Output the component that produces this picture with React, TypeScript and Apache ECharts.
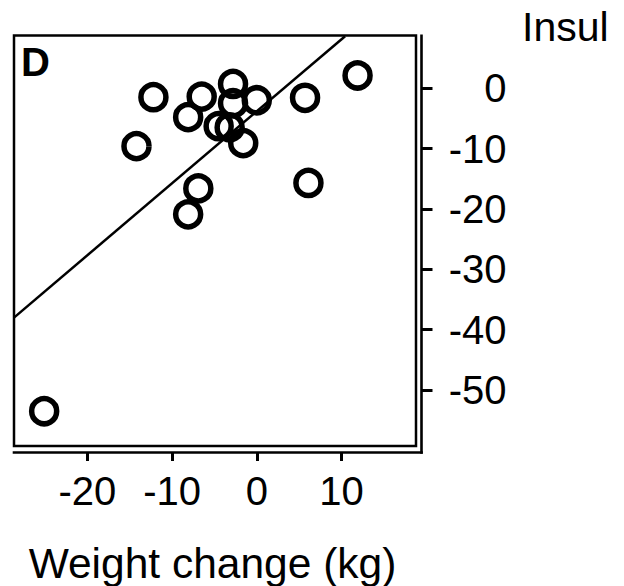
import React, { useEffect, useRef } from "react";
import * as echarts from "echarts";

// Scatter points
const weightChange = [-12.2, -6.5, -8.1, -2.8, -2.8, 0.0, -4.5, -3.2, -1.6, -14.2, -6.9, -8.1, 5.7, 6.1, 11.9, -25.1];
const insulinChange = [-1.5, -1.4, -4.8, 0.7, -2.5, -2.0, -6.3, -6.5, -9.1, -9.6, -16.6, -20.9, -1.6, -15.7, 2.1, -53.5];

// Regression line endpoints
const fitX = [-28.66, 10.43];
const fitY = [-38.0, 8.6];

const xTicks = [-20, -10, 0, 10];
const yTicks = [0, -10, -20, -30, -40, -50];

const X_MIN = -28.66;
const X_MAX = 18.8;
const Y_MIN = -59.26;
const Y_MAX = 8.72;

const FONT = '"Liberation Sans", Arial, sans-serif';

const G_LEFT = 14;
const G_TOP = 35.5;
const G_W = 402;
const G_H = 410.5;

export default function App() {
  const ref = useRef<HTMLDivElement>(null);
  useEffect(() => {
    if (!ref.current) return;
    const chart = echarts.init(ref.current, null, { renderer: "svg" });
    const right = G_LEFT + G_W;
    const bottom = G_TOP + G_H;
    const axY = bottom + 6.5;
    const axX = right + 5.5;
    chart.setOption({
      animation: false,
      backgroundColor: "#fff",
      grid: {
        left: G_LEFT,
        top: G_TOP,
        width: G_W,
        height: G_H,
        containLabel: false,
        outerBoundsMode: "none",
        show: true,
        borderColor: "#000",
        borderWidth: 2.5,
        backgroundColor: "transparent",
      },
      xAxis: {
        type: "value",
        min: X_MIN,
        max: X_MAX,
        position: "bottom",
        offset: 6.5,
        name: "Weight change (kg)",
        nameLocation: "middle",
        nameGap: 89,
        nameTextStyle: { fontFamily: FONT, fontSize: 42.5, color: "#000", padding: [0, 5, 0, 0] },
        axisLine: { show: false, onZero: false },
        axisTick: { show: true, length: 8.5, lineStyle: { color: "#000", width: 3 }, customValues: xTicks },
        axisLabel: { show: true, customValues: xTicks, fontFamily: FONT, fontSize: 40, color: "#000", margin: 18 },
        splitLine: { show: false },
      },
      yAxis: {
        type: "value",
        min: Y_MIN,
        max: Y_MAX,
        position: "right",
        offset: 5.5,
        axisLine: { show: false, onZero: false },
        axisTick: { show: true, length: 11, lineStyle: { color: "#000", width: 3 }, customValues: yTicks },
        axisLabel: { show: true, customValues: yTicks, fontFamily: FONT, fontSize: 40, color: "#000", margin: 85, align: "right" },
        splitLine: { show: false },
      },
      graphic: [
        { type: "line", shape: { x1: G_LEFT - 1.3, y1: axY, x2: axX + 1.3, y2: axY }, style: { stroke: "#000", lineWidth: 2.6 } },
        { type: "line", shape: { x1: axX, y1: G_TOP - 1, x2: axX, y2: axY + 1.3 }, style: { stroke: "#000", lineWidth: 2.6 } },
        { type: "text", left: 21, top: 42, style: { text: "D", fontFamily: FONT, fontSize: 40, fontWeight: "bold", fill: "#000" } },
        { type: "text", left: 522, top: 6, style: { text: "Insul", fontFamily: FONT, fontSize: 41, fill: "#000" } },
      ],
      series: [
        {
          type: "line",
          data: fitX.map((x, i) => [x, fitY[i]]),
          symbol: "none",
          lineStyle: { color: "#000", width: 2.5 },
          clip: true,
          silent: true,
        },
        {
          type: "scatter",
          data: weightChange.map((x, i) => [x, insulinChange[i]]),
          symbol: "circle",
          symbolSize: 25,
          itemStyle: { color: "rgba(0,0,0,0)", borderColor: "#000", borderWidth: 5.5, opacity: 1 },
          clip: false,
        },
      ],
    });
    return () => chart.dispose();
  }, []);
  return (
    <div
      ref={ref}
      style={{ position: "absolute", left: 0, top: 0, width: 624, height: 586 }}
    />
  );
}
